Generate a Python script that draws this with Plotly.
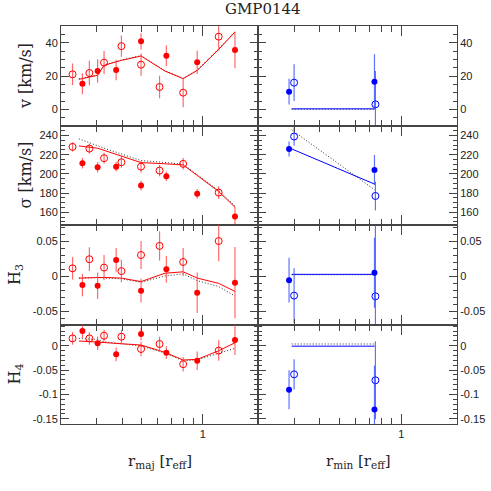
import numpy as np
import plotly.graph_objects as go
from plotly.subplots import make_subplots

# ---------------- data: major axis (left column) ----------------
x_maj_open = [0.228, 0.276, 0.326, 0.397, 0.496, 0.612, 0.80, 1.197]
x_maj_fill = [0.255, 0.303, 0.374, 0.496, 0.661, 0.938, 1.44]

v_maj_open = [21.0, 21.8, 28.0, 37.9, 26.8, 13.4, 10.0, 43.6]
v_maj_open_err = [6.5, 7.3, 7.0, 6.4, 6.7, 6.8, 8.7, 8.5]
v_maj_fill = [15.4, 23.0, 23.6, 40.8, 32.2, 28.2, 35.6]
v_maj_fill_err = [6.3, 7.0, 6.2, 4.9, 6.3, 7.0, 11.0]

s_maj_open = [228.2, 226.4, 216.4, 212.2, 207.6, 203.5, 210.5, 180.5]
s_maj_open_err = [4.9, 5.0, 5.7, 5.7, 6.0, 6.0, 6.0, 6.6]
s_maj_fill = [211.2, 207.0, 207.6, 187.8, 197.6, 179.2, 155.5]
s_maj_fill_err = [5.5, 5.5, 5.0, 5.0, 5.0, 5.0, 10.0]

h3_maj_open = [0.011, 0.024, 0.012, 0.007, 0.030, 0.043, 0.020, 0.050]
h3_maj_open_err = [0.016, 0.017, 0.018, 0.016, 0.020, 0.021, 0.020, 0.029]
h3_maj_fill = [-0.013, -0.014, 0.023, -0.021, 0.0095, -0.024, -0.0095]
h3_maj_fill_err = [0.016, 0.019, 0.017, 0.017, 0.019, 0.029, 0.051]

h4_maj_open = [0.015, 0.015, 0.0205, 0.0185, -0.0068, 0.0035, -0.038, -0.010]
h4_maj_open_err = [0.013, 0.013, 0.012, 0.014, 0.015, 0.015, 0.015, 0.021]
h4_maj_fill = [0.030, 0.005, -0.0177, 0.024, -0.0143, -0.031, 0.0117]
h4_maj_fill_err = [0.014, 0.014, 0.014, 0.013, 0.013, 0.019, 0.031]

# models (solid = coloured, dotted = black)
x_maj_model = [0.245, 0.303, 0.326, 0.397, 0.496, 0.65, 0.80, 0.94, 1.197, 1.44]
v_maj_mod_solid = [18.0, 20.4, 26.4, 29.4, 32.0, 23.0, 18.4, 23.4, 36.0, 46.4]
v_maj_mod_dot = [18.3, 20.6, 26.6, 29.6, 32.2, 23.2, 18.6, 23.6, 36.3, 46.6]
s_maj_mod_solid = [229.2, 226.8, 224.6, 218.6, 211.8, 210.6, 209.4, 198.3, 181.6, 165.3]
s_maj_mod_dot = [236.6, 229.2, 226.9, 220.8, 213.9, 212.0, 210.1, 199.1, 182.6, 166.6]
h3_maj_mod_solid = [-0.003, -0.0015, -0.002, -0.003, -0.008, 0.004, 0.006, -0.003, -0.0105, -0.022]
h3_maj_mod_dot = [-0.003, -0.002, -0.003, -0.004, -0.009, 0.0, 0.003, -0.0067, -0.015, -0.0286]
h4_maj_mod_solid = [0.0097, 0.008, 0.0065, 0.004, 0.0014, -0.0136, -0.0294, -0.028, -0.0103, 0.006]
h4_maj_mod_dot = [0.015, 0.013, 0.008, 0.0035, -0.0006, -0.015, -0.031, -0.029, -0.0157, -0.0054]

# ---------------- data: minor axis (right column) ----------------
x_min_open = [0.300, 0.748]
x_min_fill = [0.2835, 0.740]

v_min_open = [16.0, 3.0]
v_min_open_err = [11.0, 20.0]
v_min_fill = [10.6, 16.6]
v_min_fill_err = [7.7, 16.5]

s_min_open = [239.0, 177.0]
s_min_open_err = [9.5, 15.0]
s_min_fill = [226.1, 204.2]
s_min_fill_err = [7.8, 15.7]

h3_min_open = [-0.028, -0.029]
h3_min_open_err = [0.039, 0.11]
h3_min_fill = [-0.006, 0.0047]
h3_min_fill_err = [0.032, 0.05]

h4_min_open = [-0.0588, -0.071]
h4_min_open_err = [0.031, 0.08]
h4_min_fill = [-0.0903, -0.131]
h4_min_fill_err = [0.040, 0.09]

x_min_model = [0.292, 0.742]
v_min_mod_solid = [0.3, 0.3]
v_min_mod_dot = [0.0, 0.0]
s_min_mod_solid = [226.1, 189.3]
s_min_mod_dot = [246.0, 183.3]
h3_min_mod_solid = [0.0024, 0.0024]
h3_min_mod_dot = [0.0018, 0.0018]
h4_min_mod_solid = [-0.001, -0.001]
h4_min_mod_dot = [0.0035, 0.0035]

# tick labels
v_ticks = [0, 20, 40]
s_ticks = [160, 180, 200, 220, 240]
h3_ticks = [-0.05, 0, 0.05]
h3_ticktext = ["-0.05", "0", "0.05"]
h4_ticks = [-0.15, -0.1, -0.05, 0]
h4_ticktext = ["-0.15", "-0.1", "-0.05", "0"]
x_minor = [0.2, 0.3, 0.4, 0.5, 0.6, 0.7, 0.8, 0.9]

# ---------------- figure ----------------
W = H = 491
fig = make_subplots(rows=4, cols=2, horizontal_spacing=0, vertical_spacing=0)

RED = "#ff0000"
RED_E = "rgba(255,70,70,0.8)"
BLUE = "#0000ff"
BLUE_E = "rgba(50,80,255,0.8)"


def add_pts(x, y, err, filled, col, ecol, row, c):
    if filled:
        marker = dict(symbol="circle", size=6, color=col, line=dict(width=0))
    else:
        marker = dict(symbol="circle-open", size=7, color=col, line=dict(width=1, color=col))
    fig.add_trace(go.Scatter(
        x=x, y=y, mode="markers", marker=marker,
        error_y=dict(type="data", array=err, visible=True, thickness=1.2, width=0, color=ecol),
        showlegend=False, hoverinfo="skip"), row=row, col=c)


def add_model(x, ys, yd, col, row, c):
    fig.add_trace(go.Scatter(x=x, y=yd, mode="lines",
                             line=dict(color="#333333", width=1, dash="1px,2px"),
                             showlegend=False, hoverinfo="skip"), row=row, col=c)
    fig.add_trace(go.Scatter(x=x, y=ys, mode="lines",
                             line=dict(color=col, width=1),
                             showlegend=False, hoverinfo="skip"), row=row, col=c)


# left column
add_model(x_maj_model, v_maj_mod_solid, v_maj_mod_dot, RED, 1, 1)
add_pts(x_maj_open, v_maj_open, v_maj_open_err, False, RED, RED_E, 1, 1)
add_pts(x_maj_fill, v_maj_fill, v_maj_fill_err, True, RED, RED_E, 1, 1)

add_model(x_maj_model, s_maj_mod_solid, s_maj_mod_dot, RED, 2, 1)
add_pts(x_maj_open, s_maj_open, s_maj_open_err, False, RED, RED_E, 2, 1)
add_pts(x_maj_fill, s_maj_fill, s_maj_fill_err, True, RED, RED_E, 2, 1)

add_model(x_maj_model, h3_maj_mod_solid, h3_maj_mod_dot, RED, 3, 1)
add_pts(x_maj_open, h3_maj_open, h3_maj_open_err, False, RED, RED_E, 3, 1)
add_pts(x_maj_fill, h3_maj_fill, h3_maj_fill_err, True, RED, RED_E, 3, 1)

add_model(x_maj_model, h4_maj_mod_solid, h4_maj_mod_dot, RED, 4, 1)
add_pts(x_maj_open, h4_maj_open, h4_maj_open_err, False, RED, RED_E, 4, 1)
add_pts(x_maj_fill, h4_maj_fill, h4_maj_fill_err, True, RED, RED_E, 4, 1)

# right column
add_model(x_min_model, v_min_mod_solid, v_min_mod_dot, BLUE, 1, 2)
add_pts(x_min_open, v_min_open, v_min_open_err, False, BLUE, BLUE_E, 1, 2)
add_pts(x_min_fill, v_min_fill, v_min_fill_err, True, BLUE, BLUE_E, 1, 2)

add_model(x_min_model, s_min_mod_solid, s_min_mod_dot, BLUE, 2, 2)
add_pts(x_min_open, s_min_open, s_min_open_err, False, BLUE, BLUE_E, 2, 2)
add_pts(x_min_fill, s_min_fill, s_min_fill_err, True, BLUE, BLUE_E, 2, 2)

add_model(x_min_model, h3_min_mod_solid, h3_min_mod_dot, BLUE, 3, 2)
add_pts(x_min_open, h3_min_open, h3_min_open_err, False, BLUE, BLUE_E, 3, 2)
add_pts(x_min_fill, h3_min_fill, h3_min_fill_err, True, BLUE, BLUE_E, 3, 2)

add_model(x_min_model, h4_min_mod_solid, h4_min_mod_dot, BLUE, 4, 2)
add_pts(x_min_open, h4_min_open, h4_min_open_err, False, BLUE, BLUE_E, 4, 2)
add_pts(x_min_fill, h4_min_fill, h4_min_fill_err, True, BLUE, BLUE_E, 4, 2)

# ---------------- axes ----------------
col_px = [(61, 258), (258, 457)]
row_px = [(26, 126), (126, 225), (225, 325), (325, 424)]
y_ranges = [[-10, 50], [146.7, 250], [-0.070, 0.0729], [-0.1608, 0.0425]]
y_tv = [v_ticks, s_ticks, h3_ticks, h4_ticks]
y_tt = [[str(t) for t in v_ticks], [str(t) for t in s_ticks], h3_ticktext, h4_ticktext]
y_minor = [5, 5, 0.01, 0.01]
LINEC = "#444444"
TICKFONT = dict(family="Liberation Sans, Arial, sans-serif", size=11, color="#222222")

for r in range(4):
    for c in range(2):
        xd = [col_px[c][0] / W, col_px[c][1] / W]
        yd = [1 - row_px[r][1] / H, 1 - row_px[r][0] / H]
        fig.update_xaxes(
            row=r + 1, col=c + 1, domain=xd, type="log",
            range=[np.log10(0.2), np.log10(1.87)],
            tickvals=[1], ticktext=["1"], showticklabels=(r == 3),
            ticks="inside", ticklen=10, tickwidth=1, tickcolor=LINEC,
            mirror="ticks", showline=True, linecolor=LINEC, linewidth=1,
            showgrid=False, zeroline=False, tickfont=TICKFONT,
            minor=dict(tickvals=x_minor, ticks="inside", ticklen=6, tickwidth=1,
                       tickcolor=LINEC, showgrid=False),
        )
        fig.update_yaxes(
            row=r + 1, col=c + 1, domain=yd, range=y_ranges[r],
            tickvals=y_tv[r], ticktext=y_tt[r], showticklabels=True,
            side="left" if c == 0 else "right",
            ticks="inside", ticklen=8, tickwidth=1, tickcolor=LINEC,
            mirror="ticks", showline=True, linecolor=LINEC, linewidth=1,
            showgrid=False, zeroline=False, tickfont=TICKFONT,
            minor=dict(dtick=y_minor[r], ticks="inside", ticklen=4, tickwidth=1,
                       tickcolor=LINEC, showgrid=False),
        )

SERIF = "DejaVu Serif, Liberation Serif, serif"
ann = []
ann.append(dict(text="GMP0144", x=263 / W, y=1 - 9 / H, xref="paper", yref="paper",
                showarrow=False, font=dict(family=SERIF, size=15, color="#222"),
                xanchor="center", yanchor="middle"))
ytitles = ["v [km/s]", "σ [km/s]", "H<sub>3</sub>", "H<sub>4</sub>"]
ytx = [25, 25, 15, 15]
for r in range(4):
    ann.append(dict(text=ytitles[r], x=ytx[r] / W, y=1 - (row_px[r][0] + row_px[r][1]) / 2 / H,
                    xref="paper", yref="paper", showarrow=False, textangle=-90,
                    font=dict(family=SERIF, size=16, color="#222"),
                    xanchor="center", yanchor="middle"))
ann.append(dict(text="r<sub>maj</sub> [r<sub>eff</sub>]", x=160 / W, y=1 - 461 / H,
                xref="paper", yref="paper", showarrow=False,
                font=dict(family=SERIF, size=15, color="#222"), xanchor="center", yanchor="middle"))
ann.append(dict(text="r<sub>min</sub> [r<sub>eff</sub>]", x=358 / W, y=1 - 461 / H,
                xref="paper", yref="paper", showarrow=False,
                font=dict(family=SERIF, size=15, color="#222"), xanchor="center", yanchor="middle"))

fig.update_layout(width=W, height=H, margin=dict(l=0, r=0, t=0, b=0),
                  paper_bgcolor="white", plot_bgcolor="white", annotations=ann,
                  showlegend=False)

fig.write_html("out.html", config={"displayModeBar": False},
               post_script="document.body.style.margin='0px';document.body.style.padding='0px';")
